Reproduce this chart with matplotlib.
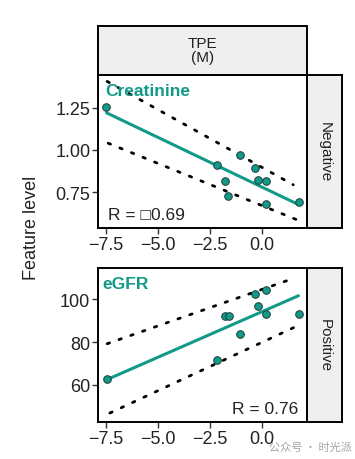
import matplotlib
matplotlib.use("Agg")
import matplotlib.pyplot as plt
import numpy as np

plt.rcParams['font.family'] = ['Liberation Sans', 'DejaVu Sans']

# ---- data ----
x_ticks = [-7.5, -5.0, -2.5, 0.0]
x_tick_labels = ["\u22127.5", "\u22125.0", "\u22122.5", "0.0"]

creat_x = [-7.5, -2.16, -1.78, -1.62, -1.06, -0.34, -0.21, 0.18, 0.19, 1.78]
creat_y = [1.254, 0.912, 0.816, 0.73, 0.97, 0.892, 0.824, 0.816, 0.68, 0.69]
creat_fit_x = [-7.47, 1.75]
creat_fit_y = [1.22, 0.677]
creat_ci_up_x = [-7.44, 1.5]
creat_ci_up_y = [1.406, 0.794]
creat_ci_lo_x = [-7.39, 1.75]
creat_ci_lo_y = [1.04, 0.583]
creat_yticks = [0.75, 1.00, 1.25]

egfr_x = [-7.47, -2.15, -1.78, -1.6, -1.06, -0.34, -0.21, 0.18, 0.21, 1.76]
egfr_y = [62.7, 71.6, 92.2, 92.2, 83.7, 102.3, 97.0, 104.3, 93.1, 93.1]
egfr_fit_x = [-7.47, 1.75]
egfr_fit_y = [62.3, 101.7]
egfr_ci_up_x = [-7.44, 1.5]
egfr_ci_up_y = [79.2, 109.8]
egfr_ci_lo_x = [-7.31, 1.75]
egfr_ci_lo_y = [46.7, 87.8]
egfr_yticks = [60, 80, 100]

teal = "#129a88"
W, H = 355, 460

fig = plt.figure(figsize=(W / 100, H / 100), dpi=100)


def box(x0, y0, x1, y1):
    return [x0 / W, 1 - y1 / H, (x1 - x0) / W, (y1 - y0) / H]


def panel(rect, xs, ys, fx, fy, ux, uy, lx, ly, ylim, yticks, ylabels):
    ax = fig.add_axes(rect)
    ax.set_facecolor("white")
    dots = (0, (0.9, 3.6))
    ax.plot(ux, uy, color="black", lw=2.0, linestyle=dots, dash_capstyle="round")
    ax.plot(lx, ly, color="black", lw=2.0, linestyle=dots, dash_capstyle="round")
    ax.plot(fx, fy, color=teal, lw=2.2, solid_capstyle="round")
    ax.scatter(xs, ys, s=30, color=teal, edgecolor="#1b3b35", linewidth=0.7, zorder=5)
    ax.set_xlim(-7.88, 2.16)
    ax.set_ylim(*ylim)
    ax.set_xticks(x_ticks)
    ax.set_xticklabels(x_tick_labels)
    ax.set_yticks(yticks)
    ax.set_yticklabels(ylabels)
    ax.tick_params(direction="out", length=4, width=1, colors="#333333",
                   labelsize=13, labelcolor="#222222", pad=1.5)
    for s in ax.spines.values():
        s.set_linewidth(1.4)
        s.set_color("black")
    return ax


ax1 = panel(box(98, 76, 307, 229), creat_x, creat_y, creat_fit_x, creat_fit_y,
            creat_ci_up_x, creat_ci_up_y, creat_ci_lo_x, creat_ci_lo_y,
            (0.538, 1.444), creat_yticks, ["0.75", "1.00", "1.25"])
ax2 = panel(box(98, 269, 307, 423), egfr_x, egfr_y, egfr_fit_x, egfr_fit_y,
            egfr_ci_up_x, egfr_ci_up_y, egfr_ci_lo_x, egfr_ci_lo_y,
            (42.5, 114.7), egfr_yticks, ["60", "80", "100"])

ax1.text(0.035, 0.95, "Creatinine", transform=ax1.transAxes, color=teal,
         fontsize=12.5, fontweight="bold", ha="left", va="top")
ax1.text(0.05, 0.04, "R = \u25a10.69", transform=ax1.transAxes, color="#222222",
         fontsize=12.5, ha="left", va="bottom")
ax2.text(0.02, 0.95, "eGFR", transform=ax2.transAxes, color=teal,
         fontsize=12.5, fontweight="bold", ha="left", va="top")
ax2.text(0.96, 0.04, "R = 0.76", transform=ax2.transAxes, color="#222222",
         fontsize=12.5, ha="right", va="bottom")


def strip(rect, label, rot):
    a = fig.add_axes(rect)
    a.set_facecolor("#efefef")
    a.set_xticks([])
    a.set_yticks([])
    for s in a.spines.values():
        s.set_linewidth(1.4)
        s.set_color("black")
    a.text(0.5, 0.5, label, transform=a.transAxes, ha="center", va="center",
           rotation=rot, fontsize=11, color="#222222", linespacing=1.0)
    return a


strip(box(98, 27, 307, 76), "TPE\n(M)", 0)
strip(box(307, 76, 342, 229), "Negative", -90)
strip(box(307, 269, 342, 423), "Positive", -90)

fig.text(32 / W, 1 - 228 / H, "Feature level", rotation=90, ha="center", va="center",
         fontsize=13, color="#222222")

fig.text(352 / W, 1 - 448 / H, "公众号 · 时光派", ha="right", va="center", fontsize=8,
         color="#9a9a9a", alpha=0.9,
         family=["Noto Sans CJK SC", "DejaVu Sans"])

fig.savefig("out.png", dpi=100, facecolor="white")
